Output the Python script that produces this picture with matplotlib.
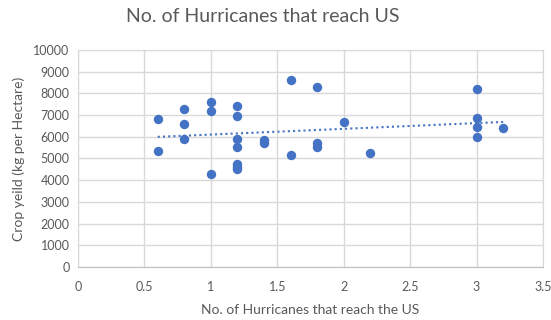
import numpy as np
import matplotlib.pyplot as plt

plt.rcParams['font.family'] = ['Lato', 'DejaVu Sans']

# Hurricanes reaching the US vs. crop yield
hurricanes = [0.6, 0.6,
              0.8, 0.8, 0.8,
              1.0, 1.0, 1.0,
              1.2, 1.2, 1.2, 1.2, 1.2, 1.2, 1.2,
              1.4, 1.4,
              1.6, 1.6,
              1.8, 1.8, 1.8,
              2.0,
              2.2,
              3.0, 3.0, 3.0, 3.0,
              3.2]
crop_yield = [6800, 5340,
              7280, 6590, 5890,
              7620, 7200, 4290,
              7430, 6960, 5900, 5550, 4750, 4620, 4520,
              5850, 5720,
              8620, 5140,
              8300, 5700, 5530,
              6700,
              5270,
              8190, 6850, 6440, 5980,
              6390]

x_ticks = [0, 0.5, 1, 1.5, 2, 2.5, 3, 3.5]
y_ticks = list(range(0, 10001, 1000))

blue = '#4472C4'
grid_col = '#D9D9D9'
text_col = '#595959'

fig = plt.figure(figsize=(5.51, 3.2), dpi=100)
ax = fig.add_axes([0.1416, 0.1656, 0.8439, 0.6782])

ax.scatter(hurricanes, crop_yield, s=46, color=blue, zorder=3, linewidths=0)

# linear trendline across the data range
x = np.array(hurricanes)
m, b = np.polyfit(x, crop_yield, 1)
xt = np.array([x.min(), x.max()])
ax.plot(xt, m * xt + b, color=blue, linestyle=(0, (1, 1.5)), linewidth=1.5, zorder=2)

ax.set_xlim(0, 3.5)
ax.set_ylim(0, 10000)
ax.set_xticks(x_ticks)
ax.set_xticklabels(['0', '0.5', '1', '1.5', '2', '2.5', '3', '3.5'])
ax.set_yticks(y_ticks)
ax.grid(True, color=grid_col, linewidth=1)
ax.set_axisbelow(True)
for side in ['top', 'right', 'left']:
    ax.spines[side].set_color(grid_col)
ax.spines['bottom'].set_color('#BFBFBF')
ax.tick_params(axis='x', length=0, labelsize=9, colors=text_col, pad=10)
ax.tick_params(axis='y', length=0, labelsize=9, colors=text_col, pad=6)

fig.text(0.476, 0.95, 'No. of Hurricanes that reach US', fontsize=14,
         color=text_col, ha='center', va='center')
ax.set_xlabel('No. of Hurricanes that reach the US', fontsize=10, color=text_col, labelpad=8)
ax.set_ylabel('Crop yeild (kg per Hectare)', fontsize=10, color=text_col, labelpad=6)

fig.savefig('out.png', dpi=100, facecolor='white')
